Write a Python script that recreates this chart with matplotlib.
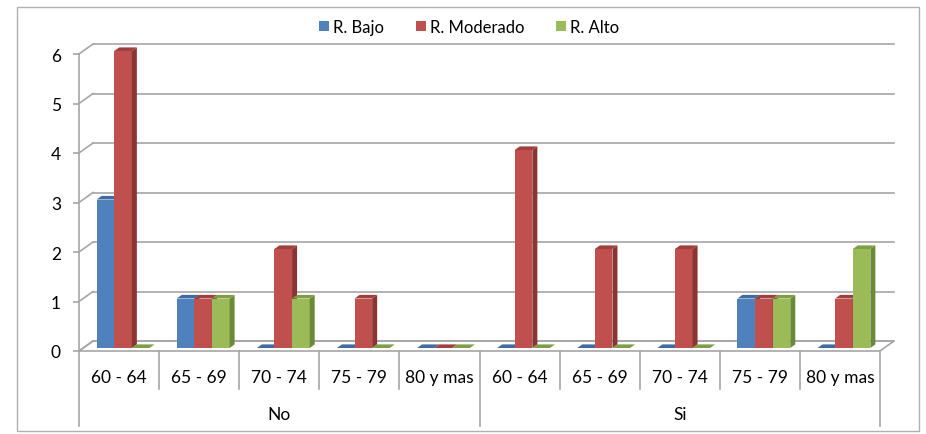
import matplotlib
matplotlib.use("Agg")
import matplotlib.pyplot as plt
from matplotlib.patches import Polygon, Rectangle
from matplotlib.lines import Line2D
from matplotlib.transforms import ScaledTranslation

# ---------------- data ----------------
groups = ["No", "Si"]
age_bands = ["60 - 64", "65 - 69", "70 - 74", "75 - 79", "80 y mas"]
series_names = ["R. Bajo", "R. Moderado", "R. Alto"]
r_bajo = [3, 1, 0, 0, 0, 0, 0, 0, 1, 0]
r_moderado = [6, 1, 2, 1, 0, 4, 2, 2, 1, 1]
r_alto = [0, 1, 1, 0, 0, 0, 0, 0, 1, 2]
y_ticks = [0, 1, 2, 3, 4, 5, 6]

# ---------------- style ----------------
FONT = ["Lato", "DejaVu Sans"]
plt.rcParams["font.family"] = FONT
face = ["#4F81BD", "#C0504D", "#9BBB59"]
side = ["#375C89", "#8A3533", "#6B8A38"]
top = ["#3F6CA3", "#A23F3C", "#7F9E45"]
grid_col = "#A6A6A6"
txt_col = "#000000"

W, H = 926, 435
fig = plt.figure(figsize=(W / 100, H / 100), dpi=100)
fig.patch.set_facecolor("white")

# front plane of the plot in pixels
x0, x1 = 79, 880
y0, y1 = 352, 55
ax = fig.add_axes([x0 / W, (H - y0) / H, (x1 - x0) / W, (y0 - y1) / H])
ncat = len(r_bajo)
ax.set_xlim(0, ncat)
ax.set_ylim(0, 6)
px_cat = (x1 - x0) / ncat
px_unit = (y0 - y1) / 6.0

# depth of the back wall and of the bars, converted to data units
bdx, bdy = 14 / px_cat, 10 / px_unit
ddx, ddy = 5 / px_cat, 3.6 / px_unit

for s in ["top", "right", "bottom"]:
    ax.spines[s].set_visible(False)
ax.spines["left"].set_color(grid_col)
ax.spines["left"].set_linewidth(1.2)
ax.set_xticks([])
ax.set_yticks(y_ticks)
ax.tick_params(axis="y", direction="out", length=4.5, width=1.2, color=grid_col,
               pad=8.5, labelsize=12.5, labelcolor=txt_col)
ax.patch.set_alpha(0)

# floor
floor = Polygon([(0, 0), (ncat, 0), (ncat + bdx, bdy), (bdx, bdy)], closed=True,
                facecolor="white", edgecolor=grid_col, lw=1.2, clip_on=False, zorder=1)
ax.add_patch(floor)
# back wall gridlines and side wall diagonals
for v in y_ticks:
    ax.plot([bdx, ncat + bdx], [v + bdy, v + bdy], color=grid_col, lw=1.2,
            clip_on=False, zorder=1)
    ax.plot([0, bdx], [v, v + bdy], color=grid_col, lw=1.2, clip_on=False, zorder=1)

# bars, drawn on a plane slightly behind the front edge
bar_trans = ax.transData + ScaledTranslation(4 / 100, 3 / 100, fig.dpi_scale_trans)
bw = 0.22
gap = (1 - 3 * bw) / 2
series = [r_bajo, r_moderado, r_alto]
z = 3
for c in range(ncat):
    for k, vals in enumerate(series):
        v = vals[c]
        xl = c + gap + k * bw
        xr = xl + bw
        if v > 0:
            ax.bar(xl, v, width=bw, align="edge", color=face[k], lw=0,
                   transform=bar_trans, zorder=z, clip_on=False)
            ax.add_patch(Polygon([(xr, 0), (xr + ddx, ddy), (xr + ddx, v + ddy), (xr, v)],
                                 closed=True, facecolor=side[k], lw=0,
                                 transform=bar_trans, zorder=z, clip_on=False))
        ax.add_patch(Polygon([(xl, v), (xr, v), (xr + ddx, v + ddy), (xl + ddx, v + ddy)],
                             closed=True, facecolor=top[k], lw=0,
                             transform=bar_trans, zorder=z, clip_on=False))
        z += 1

# category axis labels
xt = ax.get_xaxis_transform()
sep_short = -(390 - y0) / (y0 - y1)
sep_long = -(427 - y0) / (y0 - y1)
y_lab1 = -(378 - y0) / (y0 - y1)
y_lab2 = -(415 - y0) / (y0 - y1)
labels = [a for g in groups for a in age_bands]
for i, lab in enumerate(labels):
    ax.text(i + 0.5, y_lab1, lab, transform=xt, ha="center", va="center",
            fontsize=12.5, color=txt_col)
for i in range(ncat + 1):
    yb = sep_long if i % len(age_bands) == 0 else sep_short
    ax.plot([i, i], [0, yb], transform=xt, color=grid_col, lw=1.2, clip_on=False)
for g, name in enumerate(groups):
    ax.text(g * len(age_bands) + len(age_bands) / 2, y_lab2, name, transform=xt,
            ha="center", va="center", fontsize=12.5, color=txt_col)

# legend
handles = [Line2D([], [], marker="s", linestyle="none", markersize=6.5,
                  markerfacecolor=face[k], markeredgewidth=0) for k in range(3)]
fig.legend(handles, series_names, loc="center", bbox_to_anchor=(469 / W, 1 - 28 / H),
           ncol=3, frameon=False, fontsize=12, handlelength=0.6, handletextpad=0.25,
           columnspacing=1.9, borderpad=0, labelcolor=txt_col)

# chart area border
fig.add_artist(Rectangle((17 / W, 3 / H), (919 - 17) / W, (432 - 8) / H,
                         transform=fig.transFigure, fill=False, edgecolor="#B0B0B0", lw=1))

fig.savefig("out.png", dpi=100)
